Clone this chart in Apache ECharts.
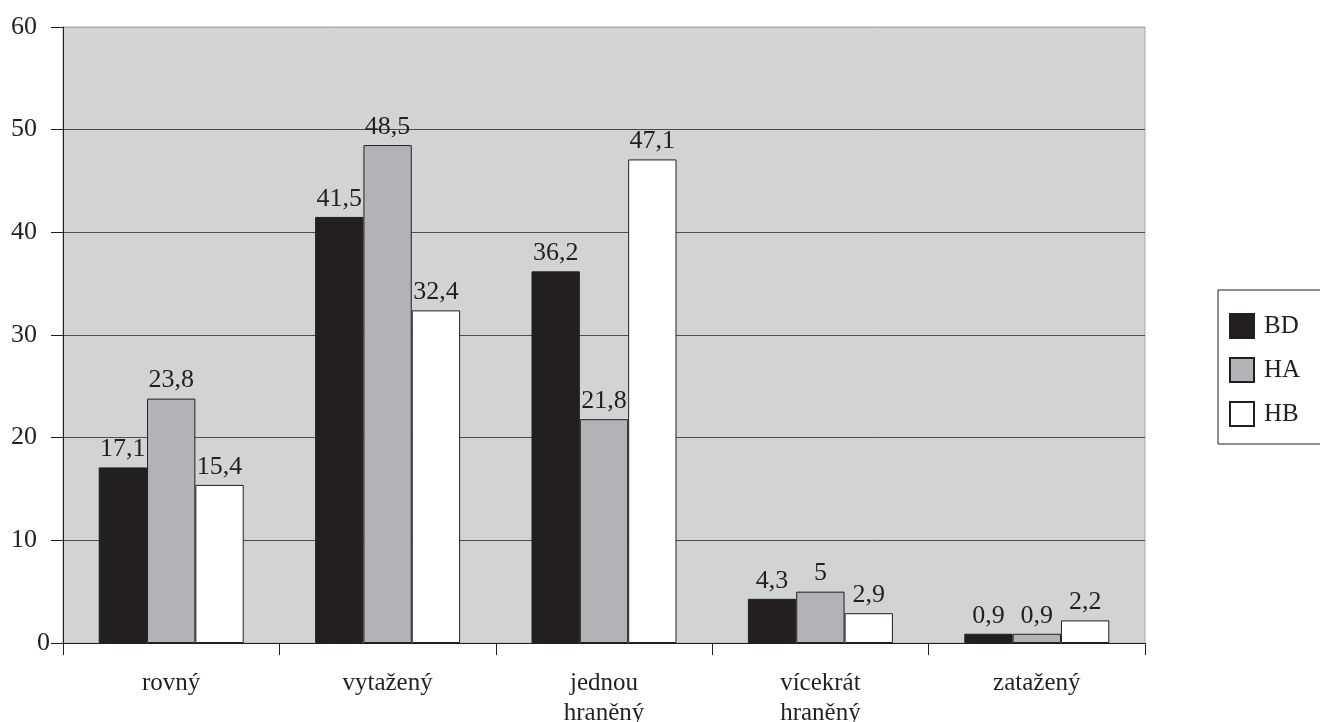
<!DOCTYPE html>
<html><head><meta charset="utf-8">
<script src="https://cdn.jsdelivr.net/npm/echarts@6/dist/echarts.min.js"></script>
<style>html,body{margin:0;padding:0;background:#fff}#c{width:1320px;height:722px}</style>
</head><body><div id="c"></div>
<script>
const categories = ['rovný', 'vytažený', 'jednou\nhraněný', 'vícekrát\nhraněný', 'zatažený'];
const seriesNames = ['BD', 'HA', 'HB'];
const BD = [17.1, 41.5, 36.2, 4.3, 0.9];
const HA = [23.8, 48.5, 21.8, 5, 0.9];
const HB = [15.4, 32.4, 47.1, 2.9, 2.2];
const yTicks = [0, 10, 20, 30, 40, 50, 60];

const colors = ['#231f20', '#b1b3b6', '#ffffff'];
const font = '"Liberation Serif", "Times New Roman", serif';
const chart = echarts.init(document.getElementById('c'), null, {renderer: 'canvas'});
const data = [BD, HA, HB];
chart.setOption({
  animation: false,
  textStyle: {fontFamily: font},
  grid: {left: 63, right: 175, top: 27, bottom: 79, outerBoundsMode: 'none', containLabel: false,
    show: true, backgroundColor: '#d1d3d4', borderColor: '#a7a9ac', borderWidth: 1},
  legend: {
    orient: 'vertical', left: 1218, top: 290,
    padding: [23, 40, 17, 11], itemWidth: 24, itemHeight: 24, itemGap: 18,
    borderColor: '#231f20', borderWidth: 1,
    textStyle: {fontFamily: font, fontSize: 25, color: '#231f20', padding: [5, 0, 0, 5]},
    data: seriesNames.map(n => ({name: n, icon: 'rect'}))
  },
  xAxis: {
    type: 'category', data: categories,
    axisLine: {lineStyle: {color: '#231f20', width: 1}},
    axisTick: {show: true, length: 12, lineStyle: {color: '#231f20'}},
    axisLabel: {fontFamily: font, fontSize: 25, color: '#231f20', margin: 25, lineHeight: 30}
  },
  yAxis: {
    type: 'value', min: yTicks[0], max: yTicks[yTicks.length - 1], interval: 10,
    axisLine: {show: true, lineStyle: {color: '#231f20'}},
    axisTick: {show: true, length: 12, lineStyle: {color: '#231f20'}},
    axisLabel: {
      fontFamily: font, fontSize: 26, color: '#231f20', margin: 13,
      formatter: v => v === 0 ? '{z|0}' : '{n|' + v + '}',
      rich: {
        z: {fontFamily: font, fontSize: 26, color: '#231f20'},
        n: {fontFamily: font, fontSize: 26, color: '#231f20', padding: [0, 13, 0, 0]}
      }
    },
    splitLine: {show: true, lineStyle: {color: ['#4d4d4d', '#4d4d4d', '#4d4d4d', '#4d4d4d', '#4d4d4d', '#4d4d4d', '#a7a9ac'], width: 1}}
  },
  series: seriesNames.map((n, i) => ({
    name: n, type: 'bar', data: data[i],
    barGap: '0%', barCategoryGap: '33%',
    itemStyle: {color: colors[i], borderColor: '#231f20', borderWidth: 1},
    label: {
      show: true, position: 'top', distance: 5,
      fontFamily: font, fontSize: 26, color: '#231f20',
      formatter: p => String(p.value).replace('.', ',')
    }
  }))
});
</script></body></html>
